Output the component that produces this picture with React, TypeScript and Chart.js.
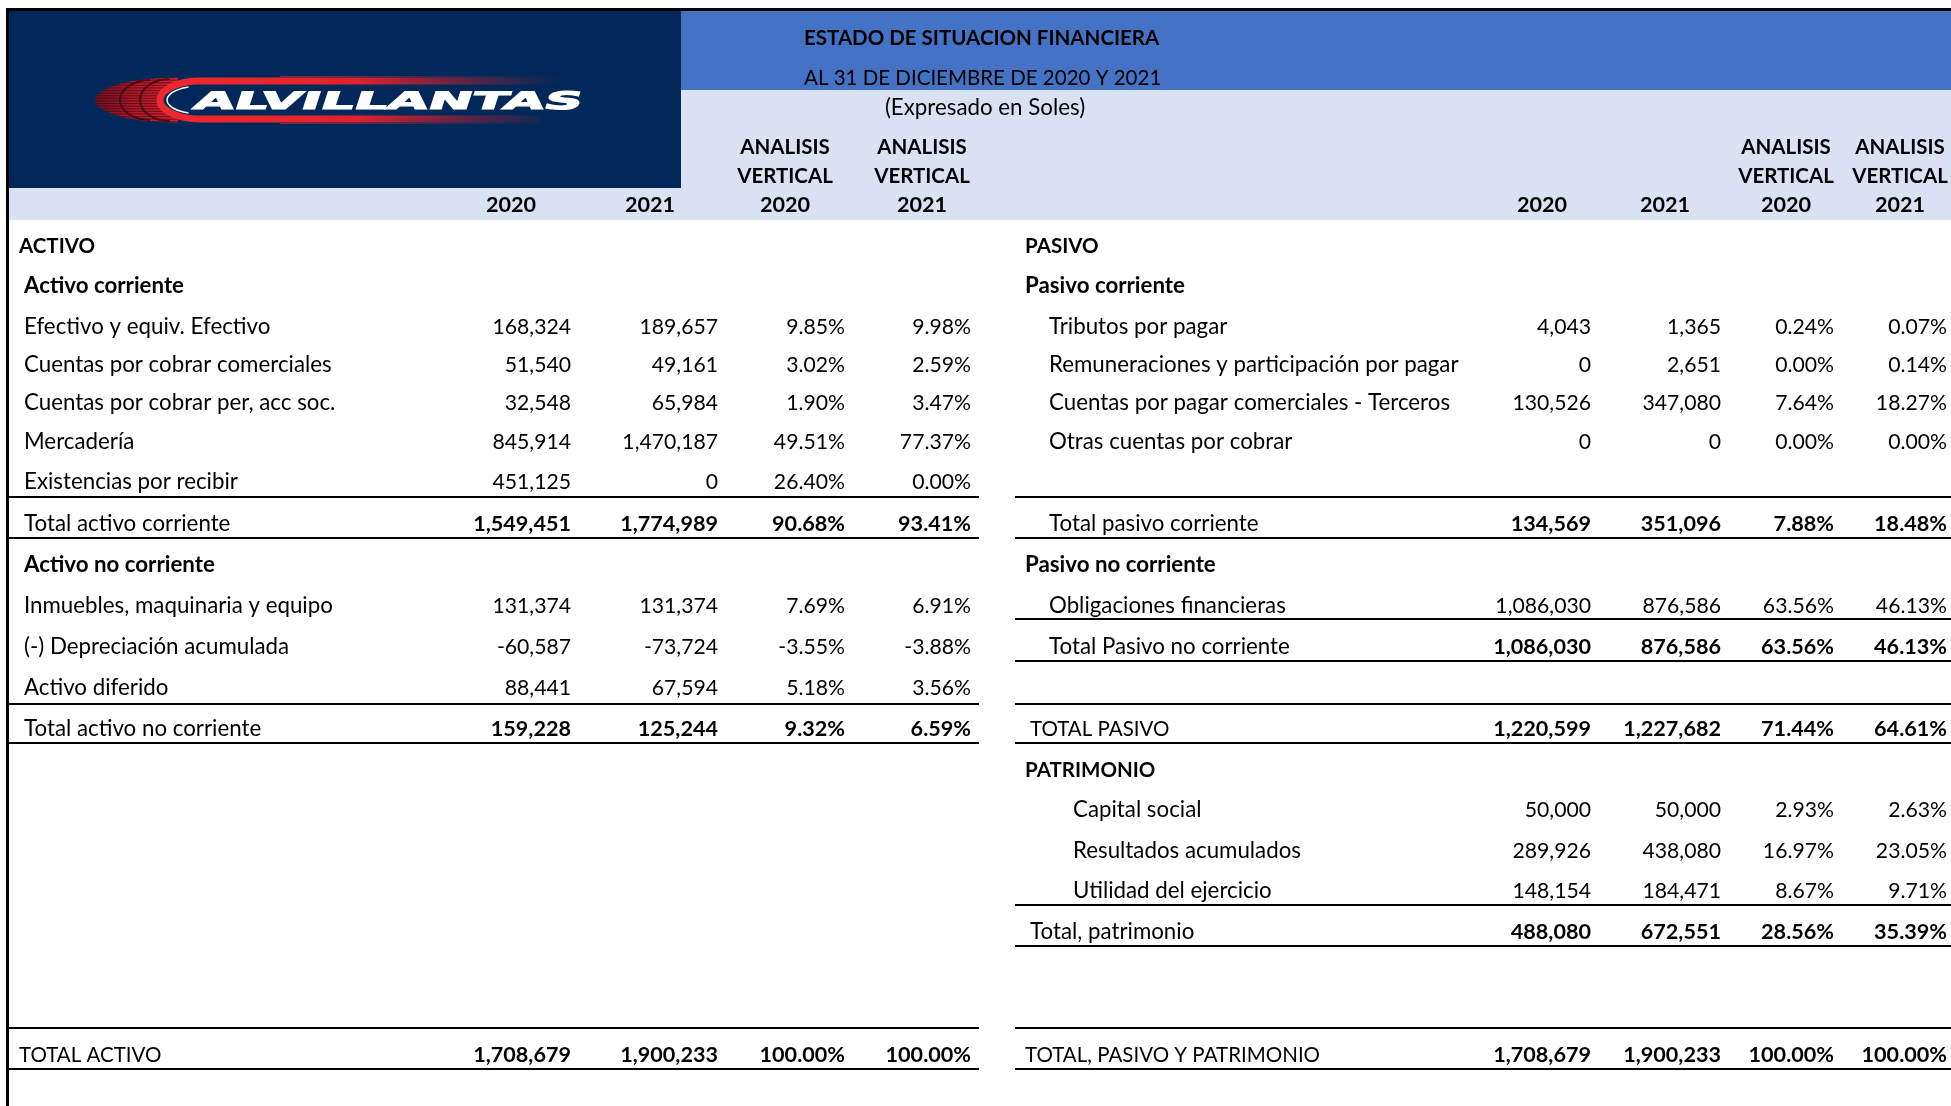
import React, { useEffect, useRef } from 'react';
import { Chart, registerables } from 'chart.js';

Chart.register(...registerables);

const W = 1951;
const H = 1106;

// ---------- DATA ----------
const titleLines = ['ESTADO DE SITUACION FINANCIERA', 'AL 31 DE DICIEMBRE DE 2020 Y 2021', '(Expresado en Soles)'];
const logoText = 'ALVILLANTAS';
const yearHeaders = ['2020', '2021'];
const avHeaderLines = ['ANALISIS', 'VERTICAL'];

const activoLabels = [
  'ACTIVO', 'Activo corriente', 'Efectivo y equiv. Efectivo', 'Cuentas por cobrar comerciales',
  'Cuentas por cobrar per, acc soc.', 'Mercadería', 'Existencias por recibir', 'Total activo corriente',
  'Activo no corriente', 'Inmuebles, maquinaria y equipo', '(-) Depreciación acumulada', 'Activo diferido',
  'Total activo no corriente', 'TOTAL ACTIVO',
];
const activo2020 = [null, null, 168324, 51540, 32548, 845914, 451125, 1549451, null, 131374, -60587, 88441, 159228, 1708679];
const activo2021 = [null, null, 189657, 49161, 65984, 1470187, 0, 1774989, null, 131374, -73724, 67594, 125244, 1900233];
const activoAV2020 = [null, null, 9.85, 3.02, 1.9, 49.51, 26.4, 90.68, null, 7.69, -3.55, 5.18, 9.32, 100.0];
const activoAV2021 = [null, null, 9.98, 2.59, 3.47, 77.37, 0.0, 93.41, null, 6.91, -3.88, 3.56, 6.59, 100.0];

const pasivoLabels = [
  'PASIVO', 'Pasivo corriente', 'Tributos por pagar', 'Remuneraciones y participación por pagar',
  'Cuentas por pagar comerciales - Terceros', 'Otras cuentas por cobrar', 'Total pasivo corriente',
  'Pasivo no corriente', 'Obligaciones financieras', 'Total Pasivo no corriente', 'TOTAL PASIVO',
  'PATRIMONIO', 'Capital social', 'Resultados acumulados', 'Utilidad del ejercicio', 'Total, patrimonio',
  'TOTAL, PASIVO Y PATRIMONIO',
];
const pasivo2020 = [null, null, 4043, 0, 130526, 0, 134569, null, 1086030, 1086030, 1220599, null, 50000, 289926, 148154, 488080, 1708679];
const pasivo2021 = [null, null, 1365, 2651, 347080, 0, 351096, null, 876586, 876586, 1227682, null, 50000, 438080, 184471, 672551, 1900233];
const pasivoAV2020 = [null, null, 0.24, 0.0, 7.64, 0.0, 7.88, null, 63.56, 63.56, 71.44, null, 2.93, 16.97, 8.67, 28.56, 100.0];
const pasivoAV2021 = [null, null, 0.07, 0.14, 18.27, 0.0, 18.48, null, 46.13, 46.13, 64.61, null, 2.63, 23.05, 9.71, 35.39, 100.0];

// ---------- LAYOUT / STYLE ----------
const ROW_Y = [245, 285, 326, 364, 402, 441, 481, 523, 564, 605, 646, 687, 728, 769, 809, 850, 890, 931, 972, 1013, 1054];
const activoRow = [0, 1, 2, 3, 4, 5, 6, 7, 8, 9, 10, 11, 12, 20];
const activoKind = ['head', 'head', 'item', 'item', 'item', 'item', 'item', 'total', 'head', 'item', 'item', 'item', 'total', 'total'];
const activoLabelX = [19, 24, 24, 24, 24, 24, 24, 24, 24, 24, 24, 24, 24, 19];
const pasivoRow = [0, 1, 2, 3, 4, 5, 7, 8, 9, 10, 12, 13, 14, 15, 16, 17, 20];
const pasivoKind = ['head', 'head', 'item', 'item', 'item', 'item', 'total', 'head', 'item', 'total', 'total', 'head', 'item', 'item', 'item', 'total', 'total'];
const pasivoLabelX = [1025, 1025, 1049, 1049, 1049, 1049, 1049, 1025, 1049, 1049, 1030, 1025, 1073, 1073, 1073, 1030, 1025];

const LEFT_COLS = [571, 718, 845, 971];
const RIGHT_COLS = [1591, 1721, 1834, 1947];
const LEFT_HDR_CENTERS = [511, 650, 785, 922];
const RIGHT_HDR_CENTERS = [1542, 1665, 1786, 1900];
const HDR_Y = [147, 176, 205];

const LEFT_LINES = [497, 538, 704, 743, 1028, 1069];
const RIGHT_LINES = [497, 538, 619, 661, 704, 743, 905, 946, 1028, 1069];
const LEFT_SPAN = [9, 979];
const RIGHT_SPAN = [1015, 1951];

const NAVY = '#02285A';
const BLUE = '#4472C4';
const LAVENDER = '#D9E1F2';
const FONT = 'Lato, "Noto Sans", sans-serif';

const fmtNum = (n: number) => n.toLocaleString('en-US');
const fmtPct = (n: number) => n.toFixed(2) + '%';

function fontSizeFor(s: string, bold: boolean) {
  if (/[a-zñáéíóú]/.test(s)) return 22.3;
  if (/^[-0-9.,%]+$/.test(s)) return bold ? 21.6 : 21.2;
  return 20.5;
}

function drawLogo(ctx: CanvasRenderingContext2D, X: (v: number) => number, Y: (v: number) => number) {
  const cy = Y(100);
  // tire
  ctx.save();
  ctx.beginPath();
  ctx.ellipse(X(178), cy, X(178) - X(95), 22.5, 0, Math.PI / 2, Math.PI * 1.5);
  ctx.closePath();
  const g = ctx.createLinearGradient(X(95), 0, X(180), 0);
  g.addColorStop(0, '#6e1020');
  g.addColorStop(0.5, '#b81a26');
  g.addColorStop(1, '#d8222c');
  ctx.fillStyle = g;
  ctx.fill();
  ctx.clip();
  ctx.fillStyle = 'rgba(50,5,25,0.55)';
  for (let y = cy - 23; y < cy + 23; y += 2.6) ctx.fillRect(X(90), y, 110, 1.1);
  ctx.strokeStyle = 'rgba(70,8,20,0.9)';
  ctx.lineWidth = 2.2;
  [[150, 30, 20], [170, 30, 21]].forEach(([cx, rx, ry]) => {
    ctx.beginPath();
    ctx.ellipse(X(cx), cy, rx, ry, 0, Math.PI / 2, Math.PI * 1.5);
    ctx.stroke();
  });
  ctx.restore();

  ctx.save();
  // navy interior of the C
  ctx.fillStyle = NAVY;
  ctx.beginPath();
  ctx.ellipse(X(200), cy, 37, 15.5, 0, 0, Math.PI * 2);
  ctx.fill();
  ctx.fillRect(X(200), cy - 15.5, X(600) - X(200), 31);

  // red C with speed bands
  const rg = ctx.createLinearGradient(X(150), 0, X(560), 0);
  rg.addColorStop(0, '#ee2a30');
  rg.addColorStop(0.5, '#e3232b');
  rg.addColorStop(0.8, 'rgba(200,30,40,0.4)');
  rg.addColorStop(1, 'rgba(200,30,40,0)');
  ctx.strokeStyle = rg;
  ctx.lineWidth = 7;
  ctx.beginPath();
  ctx.moveTo(X(560), cy - 19);
  ctx.lineTo(X(200), cy - 19);
  ctx.ellipse(X(200), cy, 40, 19, 0, -Math.PI / 2, Math.PI / 2, true);
  ctx.lineTo(X(540), cy + 19);
  ctx.stroke();
  const lg = ctx.createLinearGradient(X(280), 0, X(570), 0);
  lg.addColorStop(0, 'rgba(230,40,50,0.6)');
  lg.addColorStop(1, 'rgba(230,40,50,0)');
  ctx.strokeStyle = lg;
  ctx.lineWidth = 1;
  ctx.beginPath();
  ctx.moveTo(X(280), cy - 23.5);
  ctx.lineTo(X(570), cy - 23.5);
  ctx.moveTo(X(280), cy + 23.5);
  ctx.lineTo(X(540), cy + 23.5);
  ctx.stroke();

  // thin white arc
  ctx.strokeStyle = '#f4f4f4';
  ctx.lineWidth = 1.6;
  ctx.beginPath();
  ctx.ellipse(X(201), cy, 34, 14, 0, Math.PI * 0.62, Math.PI * 1.38);
  ctx.stroke();

  // text
  ctx.font = 'bold 24px "DejaVu Sans", sans-serif';
  ctx.textAlign = 'left';
  ctx.textBaseline = 'alphabetic';
  const tw = ctx.measureText(logoText).width;
  const sx = (X(585) - X(197)) / tw;
  ctx.translate(X(192), Y(109));
  ctx.transform(1, 0, -0.32, 1, 0, 0);
  ctx.scale(sx, 1);
  ctx.fillStyle = '#ffffff';
  ctx.strokeStyle = '#ffffff';
  ctx.lineWidth = 1.2;
  ctx.strokeText(logoText, 0, 0);
  ctx.fillText(logoText, 0, 0);
  ctx.restore();
}

const tablePlugin = {
  id: 'balanceTable',
  beforeDraw(chart: any) {
    const ctx: CanvasRenderingContext2D = chart.ctx;
    ctx.save();
    ctx.fillStyle = '#ffffff';
    ctx.fillRect(0, 0, chart.width, chart.height);
    ctx.restore();
  },
  afterDraw(chart: any) {
    const ctx: CanvasRenderingContext2D = chart.ctx;
    const xs = chart.scales.x;
    const ys = chart.scales.y;
    const X = (v: number) => xs.getPixelForValue(v);
    const Y = (v: number) => ys.getPixelForValue(v);
    const rect = (x0: number, y0: number, x1: number, y1: number, c: string) => {
      ctx.fillStyle = c;
      ctx.fillRect(X(x0), Y(y0), X(x1) - X(x0), Y(y1) - Y(y0));
    };
    ctx.save();

    // header backgrounds
    rect(9, 10, 681, 188, NAVY);
    rect(681, 10, W, 90, BLUE);
    rect(681, 90, W, 220, LAVENDER);
    rect(9, 188, 681, 220, LAVENDER);

    drawLogo(ctx, X, Y);

    const text = (s: string, x: number, y: number, align: CanvasTextAlign, bold: boolean) => {
      ctx.font = `${bold ? 'bold ' : ''}${fontSizeFor(s, bold)}px ${FONT}`;
      ctx.textAlign = align;
      ctx.textBaseline = 'middle';
      ctx.fillStyle = '#000';
      ctx.fillText(s, X(x), Y(y));
    };

    // titles
    text(titleLines[0], 804, 38, 'left', true);
    text(titleLines[1], 804, 78, 'left', false);
    text(titleLines[2], 985, 108, 'center', false);

    // column headers
    [LEFT_HDR_CENTERS, RIGHT_HDR_CENTERS].forEach((cs) => {
      text(yearHeaders[0], cs[0], HDR_Y[2], 'center', true);
      text(yearHeaders[1], cs[1], HDR_Y[2], 'center', true);
      [2, 3].forEach((k, i) => {
        text(avHeaderLines[0], cs[k], HDR_Y[0], 'center', true);
        text(avHeaderLines[1], cs[k], HDR_Y[1], 'center', true);
        text(yearHeaders[i], cs[k], HDR_Y[2], 'center', true);
      });
    });

    // body rows
    const side = (labels: string[], v20: any[], v21: any[], a20: any[], a21: any[], rows: number[], kinds: string[], lx: number[], cols: number[]) => {
      labels.forEach((lab, i) => {
        const y = ROW_Y[rows[i]] + 1;
        const k = kinds[i];
        text(lab, lx[i], y, 'left', k === 'head');
        if (v20[i] !== null) {
          const b = k === 'total';
          text(fmtNum(v20[i]), cols[0], y, 'right', b);
          text(fmtNum(v21[i]), cols[1], y, 'right', b);
          text(fmtPct(a20[i]), cols[2], y, 'right', b);
          text(fmtPct(a21[i]), cols[3], y, 'right', b);
        }
      });
    };
    side(activoLabels, activo2020, activo2021, activoAV2020, activoAV2021, activoRow, activoKind, activoLabelX, LEFT_COLS);
    side(pasivoLabels, pasivo2020, pasivo2021, pasivoAV2020, pasivoAV2021, pasivoRow, pasivoKind, pasivoLabelX, RIGHT_COLS);

    // borders
    ctx.fillStyle = '#000';
    LEFT_LINES.forEach((y) => ctx.fillRect(X(LEFT_SPAN[0]), Y(y) - 1, X(LEFT_SPAN[1]) - X(LEFT_SPAN[0]), 2));
    RIGHT_LINES.forEach((y) => ctx.fillRect(X(RIGHT_SPAN[0]), Y(y) - 1, X(RIGHT_SPAN[1]) - X(RIGHT_SPAN[0]), 2));
    ctx.fillRect(X(6), Y(8), X(W) - X(6), 3);
    ctx.fillRect(X(6), Y(8), 3, Y(H) - Y(8));

    ctx.restore();
  },
};

export default function App() {
  const ref = useRef<HTMLCanvasElement | null>(null);
  useEffect(() => {
    if (!ref.current) return;
    const chart = new Chart(ref.current, {
      type: 'scatter',
      data: { datasets: [{ data: [], pointRadius: 0 }] },
      options: {
        responsive: false,
        maintainAspectRatio: false,
        animation: false,
        devicePixelRatio: 1,
        events: [],
        layout: { padding: 0 },
        scales: {
          x: { type: 'linear', min: 0, max: W, display: false },
          y: { type: 'linear', min: 0, max: H, reverse: true, display: false },
        },
        plugins: { legend: { display: false }, tooltip: { enabled: false }, title: { display: false } },
      },
      plugins: [tablePlugin],
    } as any);
    return () => chart.destroy();
  }, []);
  return (
    <div style={{ position: 'fixed', left: 0, top: 0, width: W, height: H, overflow: 'hidden', background: '#fff' }}>
      <canvas ref={ref} width={W} height={H} style={{ display: 'block', width: W, height: H }} />
    </div>
  );
}
